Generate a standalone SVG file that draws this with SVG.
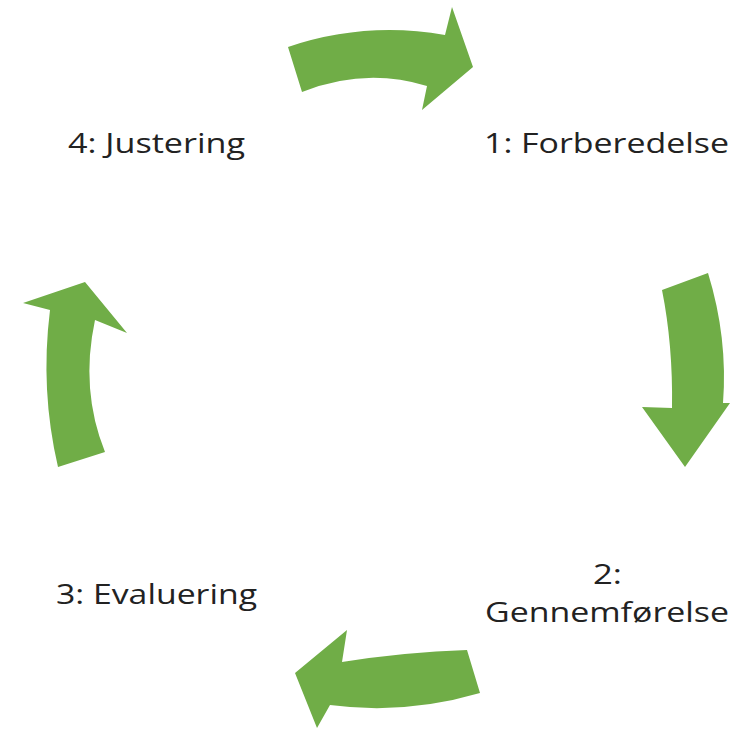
<svg xmlns="http://www.w3.org/2000/svg" width="731" height="732" viewBox="0 0 731 732">
<style>
.arrow{fill:#70AD47;}
.lbl{font-family:"Open Sans","Liberation Sans",sans-serif;font-size:28px;fill:#222;}
</style>
<rect width="731" height="732" fill="#fff"/>
<g id="connectors">
<path id="arrow-4-1" class="arrow" d="M288,47 Q365,21 445,35 L452,7 L473,67 L422,110 L427,86 Q365,67 302,92 Z"/>
<path id="arrow-1-2" class="arrow" d="M662,290 L708,273 Q728,338 723,403 L730,403 L685,467 L642,407 L672,408 Q673,345 662,290 Z"/>
<path id="arrow-2-3" class="arrow" d="M467,650 L480,693 Q405,715 330,705 L317,728 L295,673 L347,630 L342,662 Q405,652 467,650 Z"/>
<path id="arrow-3-4" class="arrow" d="M58,467 Q40,390 50,310 L23,303 L85,282 L127,333 L95,320 Q80,390 105,452 Z"/>
</g>
<g id="node1"><text class="lbl" x="484" y="153" textLength="245" lengthAdjust="spacingAndGlyphs">1: Forberedelse</text></g>
<g id="node2"><text class="lbl" x="593" y="584" textLength="29" lengthAdjust="spacingAndGlyphs">2:</text><text class="lbl" x="485" y="622" textLength="244" lengthAdjust="spacingAndGlyphs">Gennemførelse</text></g>
<g id="node3"><text class="lbl" x="56" y="604" textLength="201" lengthAdjust="spacingAndGlyphs">3: Evaluering</text></g>
<g id="node4"><text class="lbl" x="68" y="153" textLength="177" lengthAdjust="spacingAndGlyphs">4: Justering</text></g>
</svg>
